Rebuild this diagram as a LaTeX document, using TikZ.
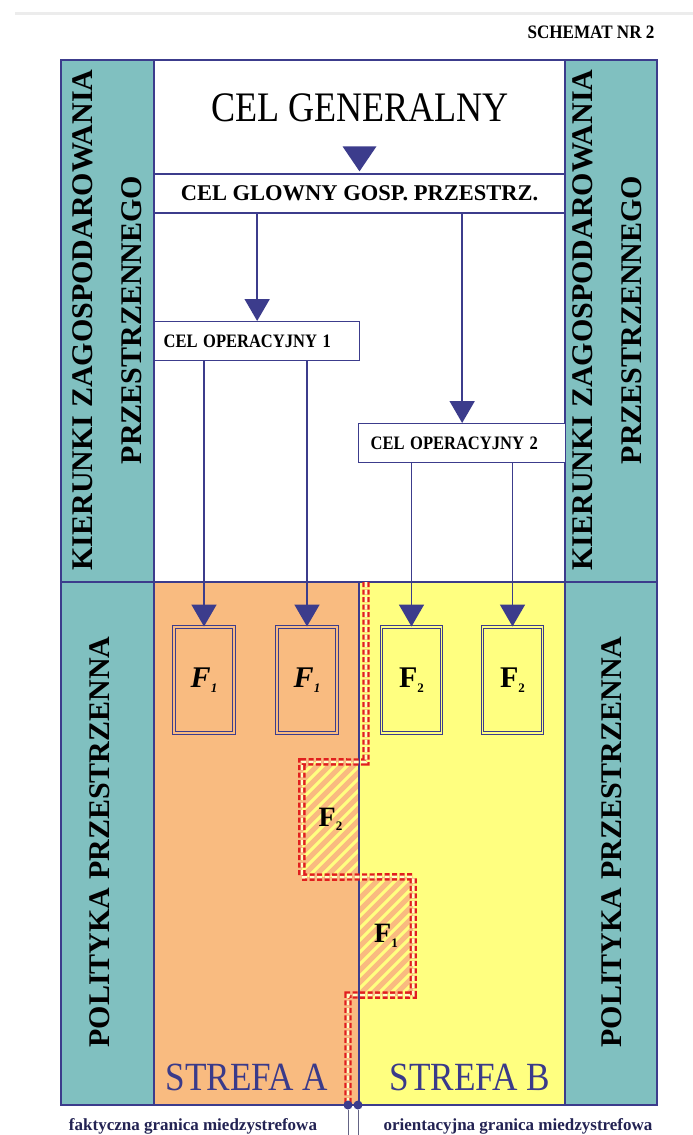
\documentclass[tikz,border=0pt]{standalone}
\usepackage{graphicx}
\usepackage{fontspec}
\setmainfont{Liberation Serif}
\usetikzlibrary{arrows.meta, positioning}

\definecolor{frameblue}{RGB}{60,60,140}
\definecolor{tealcol}{RGB}{128,192,192}
\definecolor{zoneA}{RGB}{249,187,128}
\definecolor{zoneB}{RGB}{255,255,128}
\definecolor{bandred}{RGB}{225,30,30}
\definecolor{labelblue}{RGB}{58,58,138}

\newcommand{\fsub}[1]{F\raisebox{-0.35ex}{\fontsize{13}{13}\selectfont #1}}

\begin{document}
\begin{tikzpicture}[x=1pt, y=-1pt,
    frame/.style={draw=frameblue, line width=1.6pt},
    divider/.style={draw=frameblue, line width=1.3pt},
    goalbox/.style={draw=frameblue, line width=1.3pt, fill=white, inner sep=0pt},
    opbox/.style={goalbox, minimum height=39pt, anchor=north west, align=left,
                  font=\bfseries\fontsize{19}{19}\selectfont},
    fbox/.style={draw=frameblue, line width=1pt, double distance=1.6pt,
                 minimum width=60pt, minimum height=106pt, inner sep=0pt,
                 font=\bfseries\fontsize{30}{30}\selectfont},
    hatch/.style={fill=zoneB, inner sep=0pt, font=\bfseries\fontsize{28}{28}\selectfont,
                  path picture={\foreach \k in {0,12,...,240}
                    \draw[zoneA, line width=5pt]
                      ([xshift={\k pt-120pt}]path picture bounding box.south west) -- ++(150,-150);}},
    arr/.style={draw=frameblue, line width=1.8pt, -{Triangle[width=25pt,length=22pt]}},
    band/.style={draw=bandred, line width=2.4pt, double=white!55!zoneB, double distance=2.6pt,
                 dash pattern=on 5pt off 2.5pt},
    dot/.style={circle, fill=frameblue, inner sep=0pt, minimum size=9pt},
    sidetext/.style={rotate=90, align=center, font=\bfseries\fontsize{30}{49}\selectfont},
    zonetext/.style={text=labelblue, xscale=0.88, font=\fontsize{40}{40}\selectfont},
    edgetext/.style={text=labelblue!60!black, font=\bfseries\fontsize{17}{17}\selectfont}]

  \useasboundingbox (0,0) rectangle (693,1135);
  \fill[white] (0,0) rectangle (693,1135);
  \draw[gray!15, line width=3pt] (15,13) -- (693,13);

  % panels
  \fill[tealcol] (61,60) rectangle (154,1105);
  \fill[tealcol] (565,60) rectangle (657,1105);
  \fill[zoneA] (154,582) rectangle (359,1105);
  \fill[zoneB] (359,582) rectangle (565,1105);

  % hatched functions on the wrong side
  \node[hatch, minimum width=57pt, minimum height=115pt] (hatchF2) at (330.5,819.5) {\fsub{2}};
  \node[hatch, minimum width=54pt, minimum height=118pt] (hatchF1) at (386,936) {\fsub{1}};

  \draw[divider] (154,60) -- (154,1105);
  \draw[divider] (565,60) -- (565,1105);
  \draw[divider] (61,582) -- (657,582);
  \draw[divider] (359,582) -- (359,1105);
  \draw[frame] (61,60) rectangle (657,1105);

  % goals
  \node[font=\fontsize{42}{42}\selectfont, xscale=0.86] (genl) at (360,108) {CEL GENERALNY};
  \node[goalbox, minimum width=411pt, minimum height=39pt,
        font=\bfseries\fontsize{22.5}{22.5}\selectfont] (glowny) at (359.5,193.5) {CEL GLOWNY GOSP. PRZESTRZ.};
  \fill[frameblue] ([xshift=-17pt,yshift=27pt]glowny.north) -- ([xshift=17pt,yshift=27pt]glowny.north)
    -- ([yshift=2pt]glowny.north) -- cycle;

  \node[opbox, minimum width=205pt, text width=187pt, inner xsep=9pt] (op1) at (154,321)
    {\scalebox{0.87}[1]{CEL OPERACYJNY 1}};
  \node[opbox, minimum width=207pt, text width=183pt, inner xsep=12pt] (op2) at (358,423)
    {\scalebox{0.87}[1]{CEL OPERACYJNY 2}};

  % functions
  \node[fbox, double=zoneA, fill=zoneA] (fa1) at (204,680) {\itshape\fsub{1}};
  \node[fbox, double=zoneA, fill=zoneA] (fa2) at (307,680) {\itshape\fsub{1}};
  \node[fbox, double=zoneB, fill=zoneB] (fb1) at (411.5,680) {\fsub{2}};
  \node[fbox, double=zoneB, fill=zoneB] (fb2) at (512.5,680) {\fsub{2}};

  \draw[arr] (op1.north |- glowny.south) -- (op1.north);
  \draw[arr] (op2.north |- glowny.south) -- (op2.north);
  \foreach \f in {fa1,fa2}
    \draw[arr] (\f.north |- op1.south) -- (\f.north);
  \foreach \f in {fb1,fb2}
    \draw[arr] (\f.north |- op2.south) -- (\f.north);

  % boundaries
  \draw[band] (366,582) -- (366,762) -- (hatchF2.north west) -- (hatchF2.south west)
    -- (hatchF1.north east) -- (hatchF1.south east) -- (348,995) -- (348,1105);
  \node[dot] (dotA) at (348,1105) {};
  \node[dot] (dotB) at (358,1105) {};
  \coordinate (endA) at (348,1135);
  \coordinate (endB) at (358,1135);
  \draw[gray!60!frameblue, line width=0.7pt] (dotA) -- (endA);
  \draw[gray!60!frameblue, line width=0.7pt] (dotB) -- (endB);

  % side texts
  \node[sidetext] (kierL) at (107.5,320) {KIERUNKI ZAGOSPODAROWANIA\\PRZESTRZENNEGO};
  \node[sidetext] (kierR) at (607,320) {KIERUNKI ZAGOSPODAROWANIA\\PRZESTRZENNEGO};
  \node[sidetext] (polL) at (100,842) {POLITYKA PRZESTRZENNA};
  \node[sidetext] (polR) at (612,842) {POLITYKA PRZESTRZENNA};

  \node[zonetext] (strefaA) at (247,1077) {STREFA A};
  \node[zonetext] (strefaB) at (470,1077) {STREFA B};
  \node[edgetext] (fakt) at (193,1126) {faktyczna granica miedzystrefowa};
  \node[edgetext] (orient) at (518,1126) {orientacyjna granica miedzystrefowa};

  \node[font=\bfseries\fontsize{19}{19}\selectfont, xscale=0.9] (schemat) at (591,32) {SCHEMAT NR 2};
\end{tikzpicture}
\end{document}
